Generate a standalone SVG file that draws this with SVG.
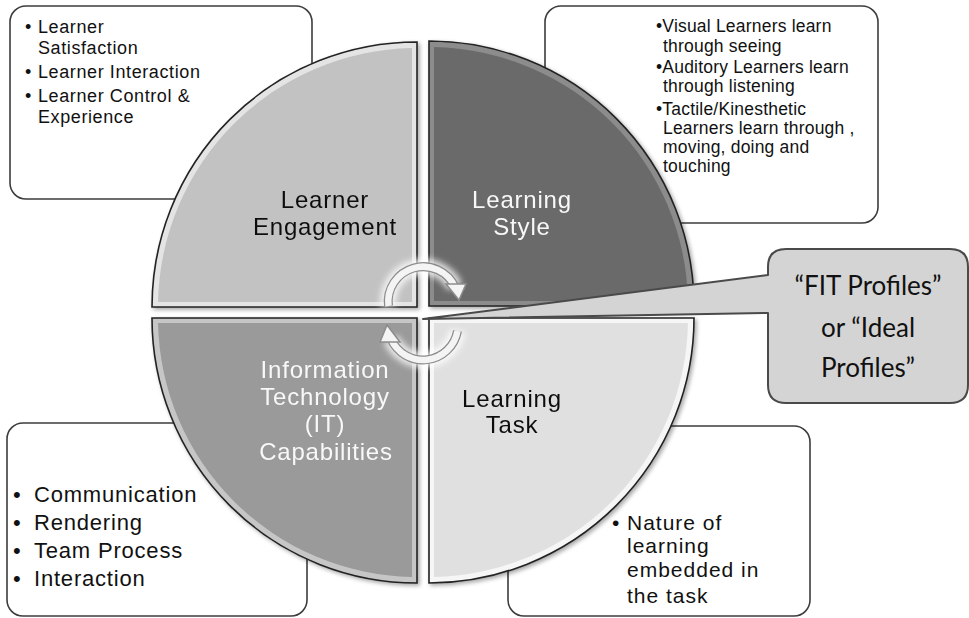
<svg xmlns="http://www.w3.org/2000/svg" width="969" height="618" viewBox="0 0 969 618">
  <defs>
    <style>
      .box { fill: #ffffff; stroke: #3c3c3c; stroke-width: 1.6; }
      .rim { stroke: #222222; stroke-width: 1.6; }
      .t { font-family: "Liberation Sans", Arial, sans-serif; fill: #111111; }
      .tl { font-size: 18px; letter-spacing: 0.6px; }
      .tr { font-size: 17.5px; letter-spacing: 0.2px; }
      .bl { font-size: 22px; letter-spacing: 0.8px; }
      .br { font-size: 21px; letter-spacing: 1px; }
      .q { font-size: 24px; letter-spacing: 0.8px; text-anchor: middle; }
      .qw { fill: #f8f8f8; }
      .call { font-family: Lato, "Open Sans", sans-serif; font-size: 26px; fill: #111111; text-anchor: middle; }
      .arrow-band { fill: none; stroke: #8c8c8c; stroke-width: 9; }
      .arrow-core { fill: none; stroke: #f4f4f4; stroke-width: 6.5; }
      .arrow-glow { fill: none; stroke: #ffffff; stroke-width: 16; opacity: 0.8; }
    </style>
    <filter id="soft" x="-20%" y="-20%" width="140%" height="140%">
      <feGaussianBlur stdDeviation="3"/>
    </filter>
    <filter id="shadow" x="-10%" y="-10%" width="130%" height="130%">
      <feGaussianBlur in="SourceAlpha" stdDeviation="2"/>
      <feOffset dx="1.5" dy="2" result="o"/>
      <feComponentTransfer><feFuncA type="linear" slope="0.35"/></feComponentTransfer>
      <feMerge><feMergeNode/><feMergeNode in="SourceGraphic"/></feMerge>
    </filter>
  </defs>

  <rect width="969" height="618" fill="#ffffff"/>

  <!-- text boxes behind the circle -->
  <g id="box-engagement">
    <rect class="box" x="10" y="6" width="302" height="193" rx="16"/>
    <text class="t tl">
      <tspan x="25" y="33">•</tspan><tspan x="38" y="33">Learner</tspan>
      <tspan x="38" y="54">Satisfaction</tspan>
      <tspan x="25" y="78">•</tspan><tspan x="38" y="78">Learner Interaction</tspan>
      <tspan x="25" y="102">•</tspan><tspan x="38" y="102">Learner Control &amp;</tspan>
      <tspan x="38" y="123">Experience</tspan>
    </text>
  </g>

  <g id="box-style">
    <rect class="box" x="545" y="6" width="333" height="217" rx="16"/>
    <text class="t tr">
      <tspan x="656" y="32">•Visual Learners learn</tspan>
      <tspan x="663" y="52">through seeing</tspan>
      <tspan x="656" y="73">•Auditory Learners learn</tspan>
      <tspan x="663" y="92">through listening</tspan>
      <tspan x="656" y="115">•Tactile/Kinesthetic</tspan>
      <tspan x="663" y="134">Learners learn through ,</tspan>
      <tspan x="663" y="153">moving, doing and</tspan>
      <tspan x="663" y="172">touching</tspan>
    </text>
  </g>

  <g id="box-it">
    <rect class="box" x="7" y="423" width="300" height="193" rx="16"/>
    <text class="t bl">
      <tspan x="13" y="502">•</tspan><tspan x="34" y="502">Communication</tspan>
      <tspan x="13" y="530">•</tspan><tspan x="34" y="530">Rendering</tspan>
      <tspan x="13" y="558">•</tspan><tspan x="34" y="558">Team Process</tspan>
      <tspan x="13" y="586">•</tspan><tspan x="34" y="586">Interaction</tspan>
    </text>
  </g>

  <g id="box-task">
    <rect class="box" x="508" y="426" width="302" height="190" rx="16"/>
    <text class="t br">
      <tspan x="612" y="530">•</tspan><tspan x="627" y="530">Nature of</tspan>
      <tspan x="627" y="553">learning</tspan>
      <tspan x="627" y="577">embedded in</tspan>
      <tspan x="627" y="603">the task</tspan>
    </text>
  </g>

  <!-- four quadrants of the circle -->
  <g id="q-engagement" filter="url(#shadow)">
    <path class="rim" d="M417,307 L152,307 A265,265 0 0 1 417,42 Z" fill="#e4e4e4"/>
    <path d="M412,302 L158.05,302 A259,259 0 0 1 412,48.05 Z" fill="#c2c2c2"/>
    <text class="t q" x="325" y="208">Learner</text>
    <text class="t q" x="325" y="235">Engagement</text>
  </g>

  <g id="q-style" filter="url(#shadow)">
    <path class="rim" d="M429,306 L429,41 A265,265 0 0 1 694,306 Z" fill="#8c8c8c"/>
    <path d="M434,301 L434,47.05 A259,259 0 0 1 687.95,301 Z" fill="#6b6b6b"/>
    <text class="t q qw" x="522" y="208">Learning</text>
    <text class="t q qw" x="522" y="235">Style</text>
  </g>

  <g id="q-it" filter="url(#shadow)">
    <path class="rim" d="M417,318 L417,583 A265,265 0 0 1 152,318 Z" fill="#c6c6c6"/>
    <path d="M412,323 L412,576.95 A259,259 0 0 1 158.05,323 Z" fill="#9a9a9a"/>
    <text class="t q qw" x="325" y="378">Information</text>
    <text class="t q qw" x="325" y="405">Technology</text>
    <text class="t q qw" x="325" y="432">(IT)</text>
    <text class="t q qw" x="326" y="460">Capabilities</text>
  </g>

  <g id="q-task" filter="url(#shadow)">
    <path class="rim" d="M429,318 L694,318 A265,265 0 0 1 429,583 Z" fill="#f6f6f6"/>
    <path d="M434,323 L687.95,323 A259,259 0 0 1 434,576.95 Z" fill="#e0e0e0"/>
    <text class="t q" x="512" y="407">Learning</text>
    <text class="t q" x="512" y="433">Task</text>
  </g>

  <!-- cycle arrows at the centre -->
  <g id="connectors">
    <g filter="url(#soft)">
      <path class="arrow-glow" d="M388.5,306 A35,35 0 0 1 455,287"/>
      <path class="arrow-glow" d="M457.5,331 A35,35 0 0 1 391,339"/>
    </g>
    <path class="arrow-band" d="M388.5,306 A35,35 0 0 1 455,287"/>
    <path class="arrow-core" d="M388.5,306 A35,35 0 0 1 455,287"/>
    <polygon points="446,284 466,284 459,300" fill="#f4f4f4" stroke="#8c8c8c" stroke-width="1.5"/>
    <path class="arrow-band" d="M457.5,331 A35,35 0 0 1 391,339"/>
    <path class="arrow-core" d="M457.5,331 A35,35 0 0 1 391,339"/>
    <polygon points="380,342 400,342 387,325" fill="#f4f4f4" stroke="#8c8c8c" stroke-width="1.5"/>
  </g>

  <!-- callout pointing at the centre -->
  <g id="callout-fit">
    <path d="M786,249 L950,249 Q968,249 968,267 L968,385 Q968,403 950,403 L786,403 Q768,403 768,385 L768,313 L423,319 L768,275 L768,267 Q768,249 786,249 Z"
          fill="#d4d4d4" stroke="#4a4a4a" stroke-width="2" stroke-linejoin="round"/>
    <text class="call" x="868" y="295">“FIT Profiles”</text>
    <text class="call" x="868" y="337">or “Ideal</text>
    <text class="call" x="868" y="377">Profiles”</text>
  </g>
</svg>
